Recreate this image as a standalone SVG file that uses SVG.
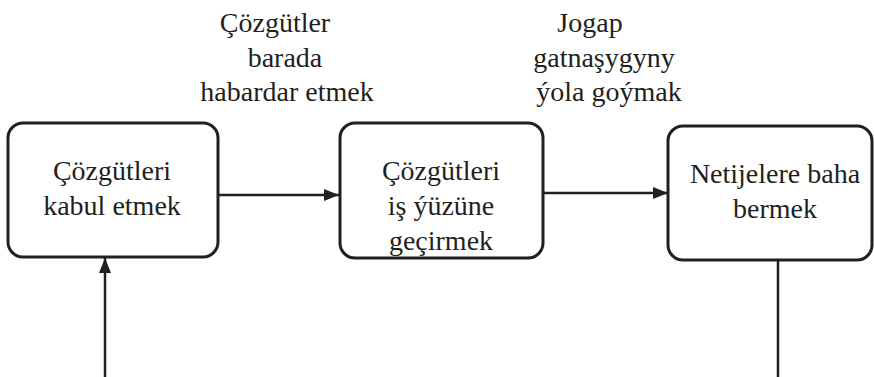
<svg xmlns="http://www.w3.org/2000/svg" width="874" height="377" viewBox="0 0 874 377">
<style>
.box{fill:#fff;stroke:#231f20;stroke-width:3}
.ln{stroke:#231f20;stroke-width:2.5;fill:none}
</style>
<defs>
<marker id="ah" viewBox="0 0 15 12" refX="15" refY="6" markerWidth="15" markerHeight="12" markerUnits="userSpaceOnUse" orient="auto">
<path d="M0,0 L15,6 L0,12 Z" fill="#231f20"/>
</marker>
</defs>
<rect width="874" height="377" fill="#fff"/>
<g id="connectors">
<line class="ln" x1="218" y1="195" x2="339" y2="195" marker-end="url(#ah)"/>
<line class="ln" x1="543" y1="193" x2="668" y2="193" marker-end="url(#ah)"/>
<line class="ln" x1="105" y1="377" x2="105" y2="258" marker-end="url(#ah)"/>
<line class="ln" x1="778" y1="260" x2="778" y2="377"/>
</g>
<g font-family="Liberation Serif, Times New Roman, serif" font-size="28" fill="#231f20" text-anchor="middle">
<g id="label1">
<text x="275" y="32">Çözgütler</text>
<text x="285" y="67">barada</text>
<text x="287" y="101">habardar etmek</text>
</g>
<g id="label2">
<text x="590" y="32">Jogap</text>
<text x="604" y="67">gatnaşygyny</text>
<text x="609" y="101">ýola goýmak</text>
</g>
<g id="node1">
<rect class="box" x="8" y="123" width="210" height="134" rx="15"/>
<text x="112" y="180">Çözgütleri</text>
<text x="112" y="215">kabul etmek</text>
</g>
<g id="node2">
<rect class="box" x="340" y="123" width="203" height="135" rx="15"/>
<text x="441" y="180">Çözgütleri</text>
<text x="441" y="215">iş ýüzüne</text>
<text x="441" y="250">geçirmek</text>
</g>
<g id="node3">
<rect class="box" x="668" y="126" width="204" height="134" rx="15"/>
<text x="775" y="183">Netijelere baha</text>
<text x="775" y="218">bermek</text>
</g>
</g>
</svg>
